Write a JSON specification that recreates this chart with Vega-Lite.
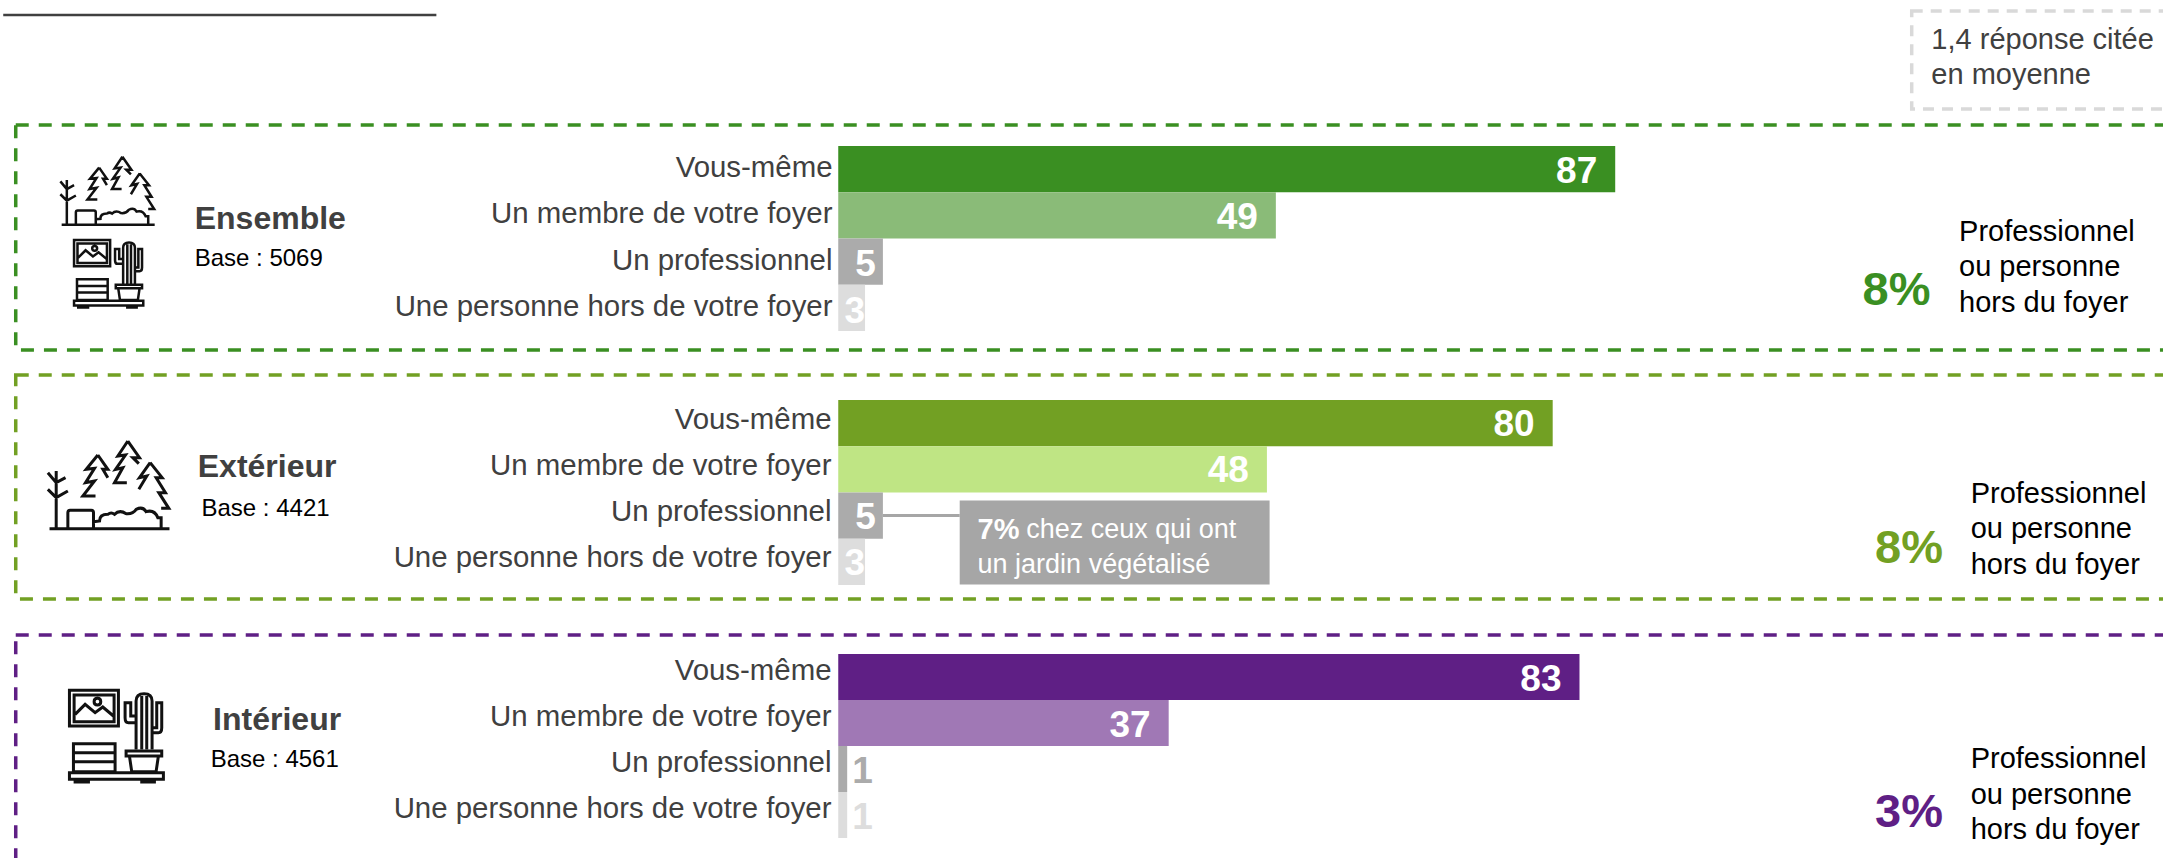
{
"$schema":"https://vega.github.io/schema/vega-lite/v6.json",
"padding":{"left":0,"top":9,"right":0,"bottom":0},
"background":"white",
"resolve":{"scale":{"color":"independent"}},
"config":{"view":{"stroke":null},"font":"Liberation Sans","text":{"font":"Liberation Sans"},"axisX":{"disable":true},"axis":{"grid":false,"labelFont":"Liberation Sans"}},
"datasets":{
"barres":[
{"panneau":"Ensemble","repondant":"Vous-même","valeur":87},
{"panneau":"Ensemble","repondant":"Un membre de votre foyer","valeur":49},
{"panneau":"Ensemble","repondant":"Un professionnel","valeur":5},
{"panneau":"Ensemble","repondant":"Une personne hors de votre foyer","valeur":3},
{"panneau":"Extérieur","repondant":"Vous-même","valeur":80},
{"panneau":"Extérieur","repondant":"Un membre de votre foyer","valeur":48},
{"panneau":"Extérieur","repondant":"Un professionnel","valeur":5},
{"panneau":"Extérieur","repondant":"Une personne hors de votre foyer","valeur":3},
{"panneau":"Intérieur","repondant":"Vous-même","valeur":83},
{"panneau":"Intérieur","repondant":"Un membre de votre foyer","valeur":37},
{"panneau":"Intérieur","repondant":"Un professionnel","valeur":1},
{"panneau":"Intérieur","repondant":"Une personne hors de votre foyer","valeur":1}
],
"un":[{"id":1}]
},
"spacing":0,
"bounds":"flush",
"vconcat":[
{"width":2163,"height":98,"data":{"name":"un"},"layer":[
{"mark":{"type":"rule","stroke":"#404040","strokeWidth":2.5,"yOffset":-45},"encoding":{"x":{"datum":-93.5,"scale":{"domain":[-93.75,148.45],"nice":false,"zero":false}},"x2":{"datum":-45}}},
{"mark":{"type":"rect","filled":false,"stroke":"#D9D9D9","strokeWidth":3.5,"strokeDash":[11,8]},"encoding":{"x":{"datum":120.2},"x2":{"datum":150}}},
{"data":{"values":[{"texte":"1,4 réponse citée\nen moyenne"}]},"mark":{"type":"text","align":"left","baseline":"middle","lineBreak":"\n","lineHeight":35,"fontSize":29,"color":"#404040","yOffset":-20},"encoding":{"x":{"datum":122.4},"text":{"field":"texte"}}}
]},
{"width":2163,"height":16,"data":{"name":"un"},"mark":{"type":"rule","opacity":0},"encoding":{}},
{"width":2163,"height":225,"data":{"name":"barres"},"transform":[{"filter":"datum.panneau==='Ensemble'"}],
"encoding":{"y":{"field":"repondant","type":"nominal","title":null,"scale":{"domain":["Vous-même","Un membre de votre foyer","Un professionnel","Une personne hors de votre foyer"],"paddingInner":0,"paddingOuter":0.432,"align":0.525},"axis":{"offset":-831,"labelFontSize":29.4,"labelColor":"#404040","labelPadding":0,"ticks":false,"domain":false,"labelLimit":0,"labelOffset":-1}}},
"layer":[
{"mark":{"type":"rect","filled":false,"stroke":"#3A8F22","strokeWidth":3.5,"strokeDash":[13,10]},"data":{"name":"un"},"encoding":{"y":null,"x":{"datum":-92.1,"scale":{"domain":[-93.75,148.45],"nice":false,"zero":false}},"x2":{"datum":150}}},
{"mark":{"type":"bar"},"encoding":{"x":{"field":"valeur","type":"quantitative"},"color":{"field":"repondant","legend":null,"scale":{"domain":["Vous-même","Un membre de votre foyer","Un professionnel","Une personne hors de votre foyer"],"range":["#3A8F22","#8ABB78","#ABABAB","#DDDDDD"]}}}},
{"transform":[{"filter":"datum.valeur>=10"}],"mark":{"type":"text","align":"right","baseline":"middle","dx":-18,"yOffset":3,"fontSize":37,"fontWeight":"bold","color":"white"},"encoding":{"x":{"field":"valeur","type":"quantitative"},"text":{"field":"valeur"}}},
{"transform":[{"filter":"datum.valeur==5"}],"mark":{"type":"text","align":"right","baseline":"middle","dx":-7,"yOffset":3,"fontSize":37,"fontWeight":"bold","color":"white"},"encoding":{"x":{"field":"valeur","type":"quantitative"},"text":{"field":"valeur"}}},
{"transform":[{"filter":"datum.valeur==3"}],"mark":{"type":"text","align":"right","baseline":"middle","dx":0,"yOffset":4,"fontSize":37,"fontWeight":"bold","color":"white"},"encoding":{"x":{"field":"valeur","type":"quantitative"},"text":{"field":"valeur"}}},
{"data":{"name":"un"},"mark":{"type":"point","filled":false,"stroke":"#111111","strokeWidth":2.5,"opacity":1,"size":0.267,"yOffset":-25,"shape":"M-180 133L180 133M-160 133L-160 -40M-185 -35L-160 -5L-132 -20M-185 15L-160 40L-125 20M-35 -88L-70 -45L-45 -48L-72 -5L-45 -10L-80 35L-42 35M-35 -88L-5 -45L-20 -45L-5 -20M55 -130L25 -85L48 -88L18 -45L40 -50L15 -5L52 -5M55 -130L90 -80L70 -80L88 -62M122 -65L90 -20L112 -25L88 15M122 -65L158 -20L140 -20L168 25L148 25L178 72L155 72M-125 133L-125 85Q-125 78 -118 78L-55 78Q-48 78 -48 85L-48 133M-48 112L-30 110Q-30 90 -5 90Q5 82 15 90Q30 75 50 88Q70 90 80 75Q100 65 110 82Q135 75 145 100L155 100L155 133"},"encoding":{"x":{"datum":-81.75},"y":{"datum":"Un membre de votre foyer"}}},
{"data":{"name":"un"},"mark":{"type":"point","filled":false,"stroke":"#111111","strokeWidth":2.5,"opacity":1,"size":0.241,"yOffset":12,"shape":"M-139 -137L8 -137L8 -30L-139 -30ZM-125 -123L-5 -123L-5 -43L-125 -43ZM-122 -65L-92 -95L-62 -70L-39 -87L-7 -60M-65 -103Q-65 -113 -55 -113Q-45 -113 -45 -103Q-45 -93 -55 -93Q-65 -93 -65 -103ZM61 40L61 -105Q61 -127 85 -127Q109 -127 109 -105L109 40M78 -120L78 40M93 -120L93 40M61 -40L38 -40Q28 -40 28 -55L28 -100L45 -100L45 -60L61 -60M109 -10L128 -10Q138 -10 138 -25L138 -100L123 -100L123 -25L109 -25M31 45L138 45L138 60L31 60ZM41 60L48 107L121 107L128 60M-127 23L-2 23L-2 107L-127 107ZM-127 50L-2 50M-127 77L-2 77M-139 110L143 110L143 130L-139 130ZM-122 130L-122 138L-82 138L-82 130M78 130L78 138L116 138L116 130"},"encoding":{"x":{"datum":-81.75},"y":{"datum":"Un professionnel"}}},
{"data":{"values":[{"texte":"Ensemble"}]},"mark":{"type":"text","align":"left","baseline":"middle","fontSize":32,"fontWeight":"bold","color":"#404040","yOffset":4},"encoding":{"x":{"datum":-72.06},"y":{"datum":"Un membre de votre foyer"},"text":{"field":"texte"}}},
{"data":{"values":[{"texte":"Base : 5069"}]},"mark":{"type":"text","align":"left","baseline":"middle","fontSize":24,"color":"#000000","yOffset":-3},"encoding":{"x":{"datum":-72.06},"y":{"datum":"Un professionnel"},"text":{"field":"texte"}}},
{"data":{"values":[{"texte":"8%"}]},"mark":{"type":"text","align":"left","baseline":"middle","fontSize":47,"fontWeight":"bold","color":"#3A8F22","yOffset":29},"encoding":{"x":{"datum":114.7},"y":{"datum":"Un professionnel"},"text":{"field":"texte"}}},
{"data":{"values":[{"texte":"Professionnel\nou personne\nhors du foyer"}]},"mark":{"type":"text","align":"left","baseline":"middle","lineBreak":"\n","lineHeight":35.5,"fontSize":29,"color":"#000000","yOffset":-30},"encoding":{"x":{"datum":125.5},"y":{"datum":"Un professionnel"},"text":{"field":"texte"}}}
]},
{"width":2163,"height":25,"data":{"name":"un"},"mark":{"type":"rule","opacity":0},"encoding":{}},
{"width":2163,"height":224,"data":{"name":"barres"},"transform":[{"filter":"datum.panneau==='Extérieur'"}],
"encoding":{"y":{"field":"repondant","type":"nominal","title":null,"scale":{"domain":["Vous-même","Un membre de votre foyer","Un professionnel","Une personne hors de votre foyer"],"paddingInner":0,"paddingOuter":0.4216,"align":0.64},"axis":{"offset":-830,"labelFontSize":29.4,"labelColor":"#404040","labelPadding":0,"ticks":false,"domain":false,"labelLimit":0,"labelOffset":-3.5}}},
"layer":[
{"mark":{"type":"rect","filled":false,"stroke":"#72A023","strokeWidth":3.5,"strokeDash":[13,10]},"data":{"name":"un"},"encoding":{"y":null,"x":{"datum":-92.1,"scale":{"domain":[-93.75,148.45],"nice":false,"zero":false}},"x2":{"datum":150}}},
{"mark":{"type":"bar"},"encoding":{"x":{"field":"valeur","type":"quantitative"},"color":{"field":"repondant","legend":null,"scale":{"domain":["Vous-même","Un membre de votre foyer","Un professionnel","Une personne hors de votre foyer"],"range":["#72A023","#BFE584","#ABABAB","#DDDDDD"]}}}},
{"transform":[{"filter":"datum.valeur>=10"}],"mark":{"type":"text","align":"right","baseline":"middle","dx":-18,"yOffset":2,"fontSize":37,"fontWeight":"bold","color":"white"},"encoding":{"x":{"field":"valeur","type":"quantitative"},"text":{"field":"valeur"}}},
{"transform":[{"filter":"datum.valeur==5"}],"mark":{"type":"text","align":"right","baseline":"middle","dx":-7,"yOffset":2,"fontSize":37,"fontWeight":"bold","color":"white"},"encoding":{"x":{"field":"valeur","type":"quantitative"},"text":{"field":"valeur"}}},
{"transform":[{"filter":"datum.valeur==3"}],"mark":{"type":"text","align":"right","baseline":"middle","dx":0,"yOffset":2,"fontSize":37,"fontWeight":"bold","color":"white"},"encoding":{"x":{"field":"valeur","type":"quantitative"},"text":{"field":"valeur"}}},
{"data":{"name":"un"},"mark":{"type":"rule","stroke":"#A6A6A6","strokeWidth":3},"encoding":{"x":{"datum":5},"x2":{"datum":13.6},"y":{"datum":"Un professionnel"}}},
{"data":{"name":"un"},"mark":{"type":"rect","fill":"#A6A6A6","height":84,"yOffset":27},"encoding":{"x":{"datum":13.6},"x2":{"datum":48.3},"y":{"datum":"Un professionnel"}}},
{"data":{"values":[{"texte":"7%"}]},"mark":{"type":"text","align":"left","baseline":"middle","fontSize":29,"fontWeight":"bold","color":"white","yOffset":14},"encoding":{"x":{"datum":15.6},"y":{"datum":"Un professionnel"},"text":{"field":"texte"}}},
{"data":{"values":[{"texte":"chez ceux qui ont"}]},"mark":{"type":"text","align":"left","baseline":"middle","fontSize":27,"color":"white","yOffset":14},"encoding":{"x":{"datum":21.05},"y":{"datum":"Un professionnel"},"text":{"field":"texte"}}},
{"data":{"values":[{"texte":"un jardin végétalisé"}]},"mark":{"type":"text","align":"left","baseline":"middle","fontSize":27,"color":"white","yOffset":3},"encoding":{"x":{"datum":15.6},"y":{"datum":"Une personne hors de votre foyer"},"text":{"field":"texte"}}},
{"data":{"name":"un"},"mark":{"type":"point","filled":false,"stroke":"#111111","strokeWidth":3,"opacity":1,"size":0.444,"yOffset":15,"shape":"M-180 133L180 133M-160 133L-160 -40M-185 -35L-160 -5L-132 -20M-185 15L-160 40L-125 20M-35 -88L-70 -45L-45 -48L-72 -5L-45 -10L-80 35L-42 35M-35 -88L-5 -45L-20 -45L-5 -20M55 -130L25 -85L48 -88L18 -45L40 -50L15 -5L52 -5M55 -130L90 -80L70 -80L88 -62M122 -65L90 -20L112 -25L88 15M122 -65L158 -20L140 -20L168 25L148 25L178 72L155 72M-125 133L-125 85Q-125 78 -118 78L-55 78Q-48 78 -48 85L-48 133M-48 112L-30 110Q-30 90 -5 90Q5 82 15 90Q30 75 50 88Q70 90 80 75Q100 65 110 82Q135 75 145 100L155 100L155 133"},"encoding":{"x":{"datum":-81.6},"y":{"datum":"Un membre de votre foyer"}}},
{"data":{"values":[{"texte":"Extérieur"}]},"mark":{"type":"text","align":"left","baseline":"middle","fontSize":32,"fontWeight":"bold","color":"#404040","yOffset":-2},"encoding":{"x":{"datum":-71.72},"y":{"datum":"Un membre de votre foyer"},"text":{"field":"texte"}}},
{"data":{"values":[{"texte":"Base : 4421"}]},"mark":{"type":"text","align":"left","baseline":"middle","fontSize":24,"color":"#000000","yOffset":-7},"encoding":{"x":{"datum":-71.3},"y":{"datum":"Un professionnel"},"text":{"field":"texte"}}},
{"data":{"values":[{"texte":"8%"}]},"mark":{"type":"text","align":"left","baseline":"middle","fontSize":47,"fontWeight":"bold","color":"#72A023","yOffset":33},"encoding":{"x":{"datum":116.1},"y":{"datum":"Un professionnel"},"text":{"field":"texte"}}},
{"data":{"values":[{"texte":"Professionnel\nou personne\nhors du foyer"}]},"mark":{"type":"text","align":"left","baseline":"middle","lineBreak":"\n","lineHeight":35.5,"fontSize":29,"color":"#000000","yOffset":-22},"encoding":{"x":{"datum":126.8},"y":{"datum":"Un professionnel"},"text":{"field":"texte"}}}
]},
{"width":2163,"height":36,"data":{"name":"un"},"mark":{"type":"rule","opacity":0},"encoding":{}},
{"width":2163,"height":228,"data":{"name":"barres"},"transform":[{"filter":"datum.panneau==='Intérieur'"}],
"encoding":{"y":{"field":"repondant","type":"nominal","title":null,"scale":{"domain":["Vous-même","Un membre de votre foyer","Un professionnel","Une personne hors de votre foyer"],"paddingInner":0,"paddingOuter":0.478,"align":0.432},"axis":{"offset":-830,"labelFontSize":29.4,"labelColor":"#404040","labelPadding":0,"ticks":false,"domain":false,"labelLimit":0,"labelOffset":-6.5}}},
"layer":[
{"mark":{"type":"rect","filled":false,"stroke":"#5F1F85","strokeWidth":3.5,"strokeDash":[13,10]},"data":{"name":"un"},"encoding":{"y":null,"x":{"datum":-92.1,"scale":{"domain":[-93.75,148.45],"nice":false,"zero":false}},"x2":{"datum":150}}},
{"mark":{"type":"bar"},"encoding":{"x":{"field":"valeur","type":"quantitative"},"color":{"field":"repondant","legend":null,"scale":{"domain":["Vous-même","Un membre de votre foyer","Un professionnel","Une personne hors de votre foyer"],"range":["#5F1F85","#A078B5","#ABABAB","#DDDDDD"]}}}},
{"transform":[{"filter":"datum.valeur>=10"}],"mark":{"type":"text","align":"right","baseline":"middle","dx":-18,"yOffset":3,"fontSize":37,"fontWeight":"bold","color":"white"},"encoding":{"x":{"field":"valeur","type":"quantitative"},"text":{"field":"valeur"}}},
{"transform":[{"filter":"datum.valeur==1"}],"mark":{"type":"text","align":"left","baseline":"middle","dx":5,"yOffset":3,"fontSize":37,"fontWeight":"bold"},"encoding":{"x":{"field":"valeur","type":"quantitative"},"text":{"field":"valeur"},"color":{"field":"repondant","legend":null}}},
{"data":{"name":"un"},"mark":{"type":"point","filled":false,"stroke":"#111111","strokeWidth":3,"opacity":1,"size":0.444,"yOffset":13,"shape":"M-139 -137L8 -137L8 -30L-139 -30ZM-125 -123L-5 -123L-5 -43L-125 -43ZM-122 -65L-92 -95L-62 -70L-39 -87L-7 -60M-65 -103Q-65 -113 -55 -113Q-45 -113 -45 -103Q-45 -93 -55 -93Q-65 -93 -65 -103ZM61 40L61 -105Q61 -127 85 -127Q109 -127 109 -105L109 40M78 -120L78 40M93 -120L93 40M61 -40L38 -40Q28 -40 28 -55L28 -100L45 -100L45 -60L61 -60M109 -10L128 -10Q138 -10 138 -25L138 -100L123 -100L123 -25L109 -25M31 45L138 45L138 60L31 60ZM41 60L48 107L121 107L128 60M-127 23L-2 23L-2 107L-127 107ZM-127 50L-2 50M-127 77L-2 77M-139 110L143 110L143 130L-139 130ZM-122 130L-122 138L-82 138L-82 130M78 130L78 138L116 138L116 130"},"encoding":{"x":{"datum":-80.9},"y":{"datum":"Un membre de votre foyer"}}},
{"data":{"values":[{"texte":"Intérieur"}]},"mark":{"type":"text","align":"left","baseline":"middle","fontSize":32,"fontWeight":"bold","color":"#404040","yOffset":-3},"encoding":{"x":{"datum":-70.0},"y":{"datum":"Un membre de votre foyer"},"text":{"field":"texte"}}},
{"data":{"values":[{"texte":"Base : 4561"}]},"mark":{"type":"text","align":"left","baseline":"middle","fontSize":24,"color":"#000000","yOffset":-9},"encoding":{"x":{"datum":-70.27},"y":{"datum":"Un professionnel"},"text":{"field":"texte"}}},
{"data":{"values":[{"texte":"3%"}]},"mark":{"type":"text","align":"left","baseline":"middle","fontSize":47,"fontWeight":"bold","color":"#5F1F85","yOffset":44},"encoding":{"x":{"datum":116.1},"y":{"datum":"Un professionnel"},"text":{"field":"texte"}}},
{"data":{"values":[{"texte":"Professionnel\nou personne\nhors du foyer"}]},"mark":{"type":"text","align":"left","baseline":"middle","lineBreak":"\n","lineHeight":35.5,"fontSize":29,"color":"#000000","yOffset":-10},"encoding":{"x":{"datum":126.8},"y":{"datum":"Un professionnel"},"text":{"field":"texte"}}}
]}
]
}
